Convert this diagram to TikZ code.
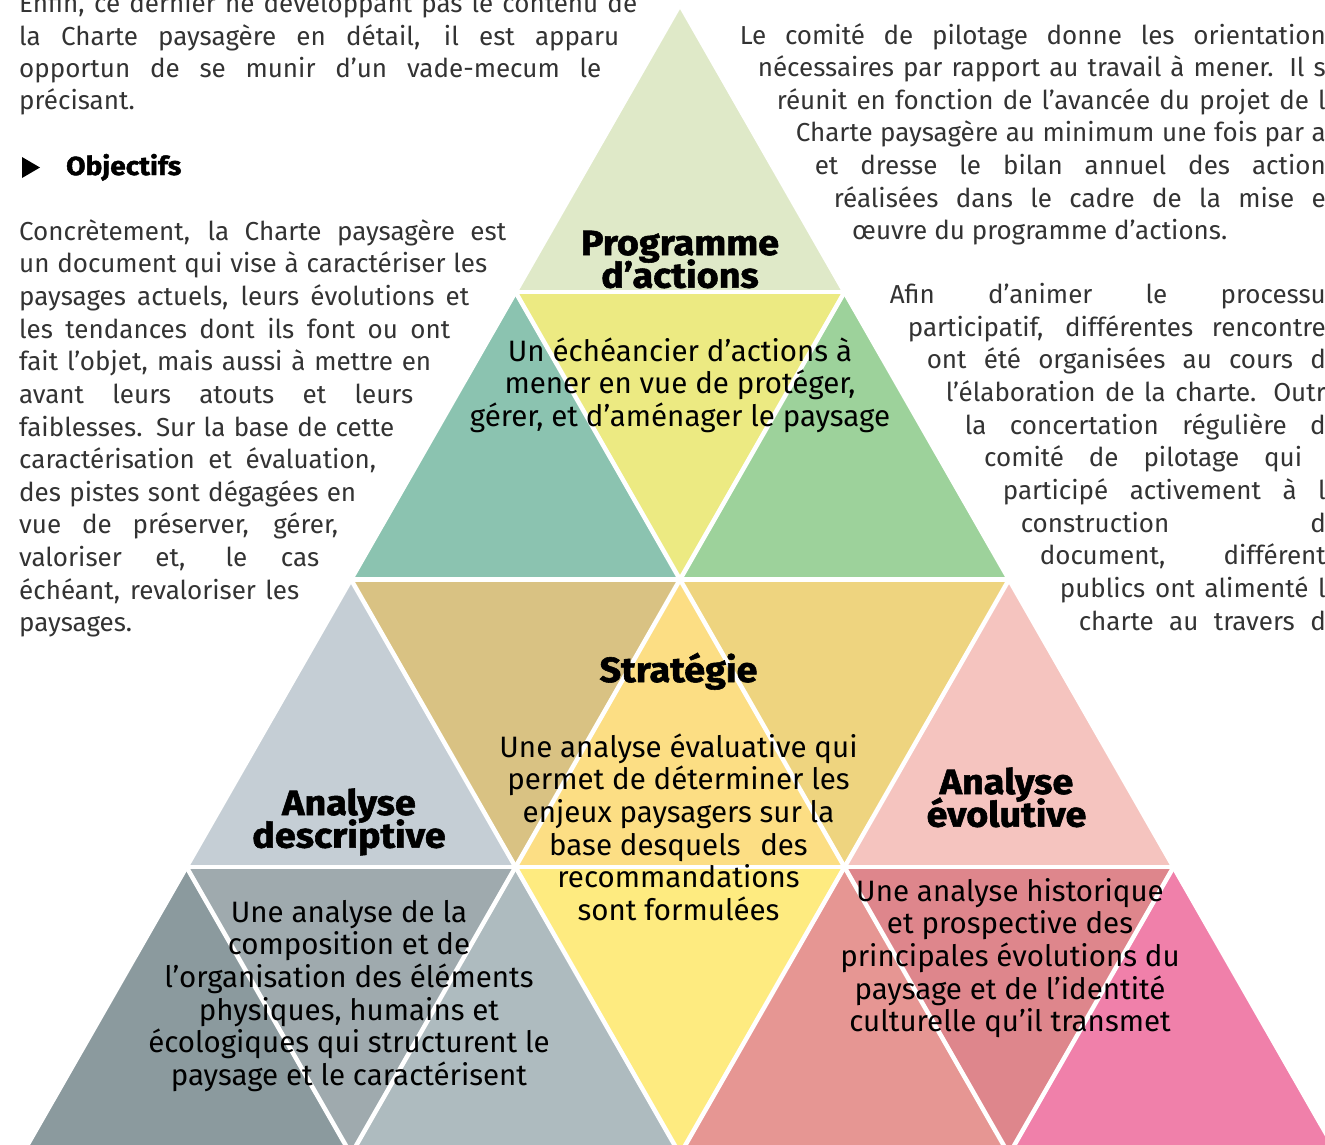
\documentclass[tikz,border=0pt]{standalone}
\usepackage{fontspec}
\setmainfont{Fira Sans}
\newfontfamily\lightfont{Fira Sans}
\newfontfamily\heavyfont{Fira Sans}[BoldFeatures={FakeBold=1.6, FakeStretch=1.08}]

% triangle colours
\definecolor{cTop}{HTML}{DFE9C8}
\definecolor{cTeal}{HTML}{8BC3B0}
\definecolor{cLime}{HTML}{ECEA82}
\definecolor{cGreen}{HTML}{9DD29B}
\definecolor{cBlueGrey}{HTML}{C5CED5}
\definecolor{cTan}{HTML}{D9C283}
\definecolor{cApricot}{HTML}{FCDE84}
\definecolor{cOchre}{HTML}{EED47F}
\definecolor{cPink}{HTML}{F5C4BF}
\definecolor{cSlate}{HTML}{8B9A9E}
\definecolor{cGreyMid}{HTML}{9FAAAE}
\definecolor{cGreyLight}{HTML}{AEBBBF}
\definecolor{cYellow}{HTML}{FEEB80}
\definecolor{cSalmon}{HTML}{E69693}
\definecolor{cRose}{HTML}{DE868C}
\definecolor{cFuchsia}{HTML}{F080AA}
\definecolor{inkLight}{HTML}{333333}

\tikzset{
  para/.style={font=\lightfont\fontsize{26}{32}\selectfont, inner sep=0pt, text=inkLight},
  body/.style={font=\fontsize{29.5}{32}\selectfont, inner sep=0pt, text=black, anchor=base},
  head/.style={font=\heavyfont\bfseries\fontsize{35}{32}\selectfont, inner sep=0pt, text=black, anchor=base},
  gap/.style={draw=white, line width=4.5pt, line cap=butt},
}

% justified line starting at the left margin
\newcommand\lline[4]{\node[para, anchor=base west] (#1) at (19,#2) {\makebox[#3pt][s]{#4}};}
% justified line running out at the right margin
\newcommand\rline[4]{\node[para, anchor=base east] (#1) at (1326,#2) {\makebox[#3pt][s]{#4}};}
% centred stack of lines inside a triangle
\newcommand\textstack[5]{%
  \foreach \ln [count=\i from 0] in {#5}{%
    \node[#4] (#1-\i) at (#2, {#3 + \i*32.7}) {\ln};
  }}

\begin{document}
\begin{tikzpicture}[x=1pt, y=-1pt]
\useasboundingbox (0,0) rectangle (1325,1144);

% lattice vertices: row r has r+1 points
\foreach \r in {0,...,4}{
  \foreach \k in {0,...,\r}{
    \coordinate (v\r\k) at ({680+(2*\k-\r)*164.5}, {4.5+\r*287.5});
  }
}

% row 1
\fill[cTop] (v00) -- (v10) -- (v11) -- cycle;
% row 2
\fill[cTeal]  (v10) -- (v20) -- (v21) -- cycle;
\fill[cLime]  (v10) -- (v11) -- (v21) -- cycle;
\fill[cGreen] (v11) -- (v21) -- (v22) -- cycle;
% row 3
\fill[cBlueGrey] (v20) -- (v30) -- (v31) -- cycle;
\fill[cTan]      (v20) -- (v21) -- (v31) -- cycle;
\fill[cApricot]  (v21) -- (v31) -- (v32) -- cycle;
\fill[cOchre]    (v21) -- (v22) -- (v32) -- cycle;
\fill[cPink]     (v22) -- (v32) -- (v33) -- cycle;
% row 4
\fill[cSlate]     (v30) -- (v40) -- (v41) -- cycle;
\fill[cGreyMid]   (v30) -- (v31) -- (v41) -- cycle;
\fill[cGreyLight] (v31) -- (v41) -- (v42) -- cycle;
\fill[cYellow]    (v31) -- (v32) -- (v42) -- cycle;
\fill[cSalmon]    (v32) -- (v42) -- (v43) -- cycle;
\fill[cRose]      (v32) -- (v33) -- (v43) -- cycle;
\fill[cFuchsia]   (v33) -- (v43) -- (v44) -- cycle;

% white gaps along the lattice lines
\draw[gap] (v10) -- (v11);
\draw[gap] (v20) -- (v22);
\draw[gap] (v30) -- (v33);
\draw[gap] (v00) -- (v40);
\draw[gap] (v11) -- (v41);
\draw[gap] (v22) -- (v42);
\draw[gap] (v33) -- (v43);
\draw[gap] (v00) -- (v44);
\draw[gap] (v10) -- (v43);
\draw[gap] (v20) -- (v42);
\draw[gap] (v30) -- (v41);

% left column, first paragraph
\lline{pa1}{12.5}{618}{Enfin, ce dernier ne développant pas le contenu de}
\lline{pa2}{45}{600}{la Charte paysagère en détail, il est apparu}
\lline{pa3}{77.5}{582}{opportun de se munir d’un vade-mecum le}
\node[para, anchor=base west] (pa4) at (19,109.5) {précisant.};

% section heading
\fill[black] (22,157) -- (22,178) -- (40,167.5) -- cycle;
\node[font=\heavyfont\bfseries\fontsize{26}{32}\selectfont, inner sep=0pt, anchor=base west] (obj) at (66,175) {Objectifs};

% left column, second paragraph
\lline{pb1}{240}{487}{Concrètement, la Charte paysagère est}
\lline{pb2}{272.5}{468}{un document qui vise à caractériser les}
\lline{pb3}{305}{450}{paysages actuels, leurs évolutions et}
\lline{pb4}{338}{431}{les tendances dont ils font ou ont}
\lline{pb5}{370.5}{412}{fait l’objet, mais aussi à mettre en}
\lline{pb6}{403}{394}{avant leurs atouts et leurs}
\lline{pb7}{436}{375}{faiblesses. Sur la base de cette}
\lline{pb8}{468}{357}{caractérisation et évaluation,}
\lline{pb9}{501}{337}{des pistes sont dégagées en}
\lline{pb10}{533.5}{319}{vue de préserver, gérer,}
\lline{pb11}{566}{300}{valoriser et, le cas}
\lline{pb12}{599}{280}{échéant, revaloriser les}
\node[para, anchor=base west] (pb13) at (19,631) {paysages.};

% right column, first paragraph
\rline{pc1}{44}{586}{Le comité de pilotage donne les orientation}
\rline{pc2}{76}{568}{nécessaires par rapport au travail à mener. Il s}
\rline{pc3}{109}{549}{réunit en fonction de l’avancée du projet de l}
\rline{pc4}{141}{530}{Charte paysagère au minimum une fois par a}
\rline{pc5}{174}{511}{et dresse le bilan annuel des action}
\rline{pc6}{207}{492}{réalisées dans le cadre de la mise e}
\node[para, anchor=base west] (pc7) at (852,239) {œuvre du programme d’actions.};

% right column, second paragraph
\rline{pd1}{303}{436}{Afin d’animer le processu}
\rline{pd2}{336}{418}{participatif, différentes rencontre}
\rline{pd3}{368.5}{399}{ont été organisées au cours d}
\rline{pd4}{401}{380}{l’élaboration de la charte. Outr}
\rline{pd5}{434}{361}{la concertation régulière d}
\node[para, anchor=base west] (pd6) at (984,466) {\makebox[318pt][s]{comité de pilotage qui}};
\rline{pd7}{499}{323}{participé activement à l}
\rline{pd8}{532}{305}{construction d}
\rline{pd9}{564}{286}{document, différent}
\rline{pd10}{597}{266}{publics ont alimenté l}
\rline{pd11}{630}{247}{charte au travers d}

% texts inside the triangles
\textstack{prog}{680}{255}{head}{{Programme},{d’actions}}
\textstack{eche}{680}{361}{body}{{Un échéancier d’actions à},{mener en vue de protéger,},{gérer, et d’aménager le paysage}}
\textstack{strat}{678.5}{682}{head}{{Stratégie}}
\textstack{eval}{678.5}{757}{body}{{Une analyse évaluative qui},{permet de déterminer les},{enjeux paysagers sur la},{base desquels\hspace{0.4em} des},{recommandations},{sont formulées}}
\textstack{desc}{349}{815}{head}{{Analyse},{descriptive}}
\textstack{comp}{349}{922}{body}{{Une analyse de la},{composition et de},{l’organisation des éléments},{physiques, humains et},{écologiques qui structurent le},{paysage et le caractérisent}}
\textstack{evo}{1006.5}{794}{head}{{Analyse},{évolutive}}
\textstack{hist}{1010}{901}{body}{{Une analyse historique},{et prospective des},{principales évolutions du},{paysage et de l’identité},{culturelle qu’il transmet}}

\end{tikzpicture}
\end{document}
